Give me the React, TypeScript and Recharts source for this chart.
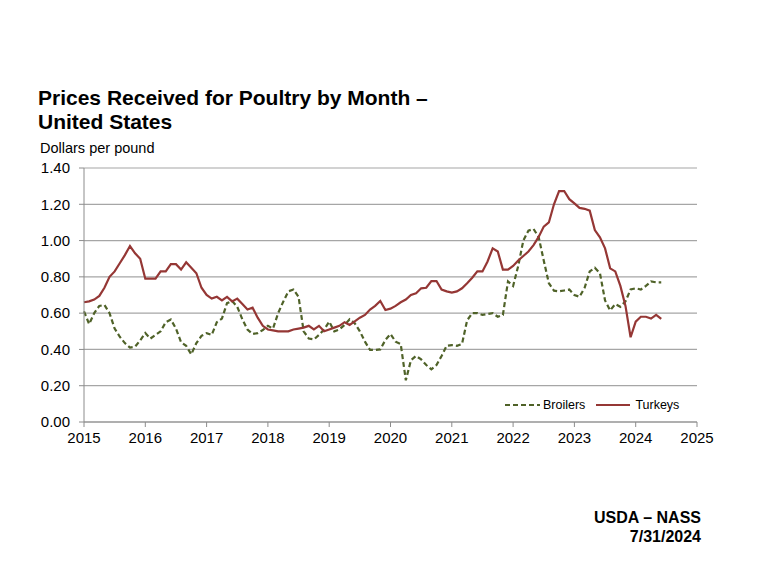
import React from "react";
import { LineChart, Line, XAxis, YAxis, CartesianGrid } from "recharts";

const startYear = 2015;
const yearTicks = [2015, 2016, 2017, 2018, 2019, 2020, 2021, 2022, 2023, 2024, 2025];
const priceTicks = [0, 0.2, 0.4, 0.6, 0.8, 1.0, 1.2, 1.4];

// Monthly prices, Jan 2015 - Jun 2024 (dollars per pound)
const broilers = [
  0.61, 0.54, 0.6, 0.64, 0.645, 0.6, 0.515, 0.47, 0.435, 0.41, 0.415, 0.45,
  0.49, 0.46, 0.48, 0.5, 0.55, 0.565, 0.515, 0.44, 0.42, 0.373, 0.435, 0.475,
  0.49, 0.48, 0.55, 0.57, 0.655, 0.667, 0.635, 0.566, 0.51, 0.485, 0.49, 0.507,
  0.53, 0.515, 0.6, 0.663, 0.72, 0.73, 0.69, 0.5, 0.46, 0.455, 0.48, 0.51,
  0.553, 0.5, 0.51, 0.535, 0.566, 0.544, 0.5, 0.443, 0.397, 0.397, 0.4, 0.452,
  0.485, 0.443, 0.43, 0.23, 0.34, 0.364, 0.345, 0.314, 0.29, 0.314, 0.364, 0.42,
  0.424, 0.42, 0.43, 0.56, 0.6, 0.6, 0.59, 0.595, 0.6, 0.58, 0.59, 0.775,
  0.75, 0.86, 1.0, 1.055, 1.064, 1.02, 0.89, 0.765, 0.724, 0.72, 0.725, 0.73,
  0.7, 0.69, 0.74, 0.83, 0.85, 0.82, 0.67, 0.615, 0.65, 0.635, 0.665, 0.73,
  0.737, 0.73, 0.75, 0.775, 0.77, 0.77,
];

const turkeys = [
  0.66, 0.665, 0.675, 0.695, 0.74, 0.8, 0.83, 0.875, 0.92, 0.97, 0.93, 0.9,
  0.79, 0.79, 0.79, 0.83, 0.83, 0.87, 0.87, 0.84, 0.88, 0.85, 0.82, 0.74,
  0.7, 0.68, 0.69, 0.67, 0.69, 0.665, 0.68, 0.65, 0.62, 0.63, 0.575, 0.53,
  0.51, 0.505, 0.5, 0.5, 0.5, 0.51, 0.515, 0.52, 0.53, 0.51, 0.53, 0.5,
  0.51, 0.52, 0.53, 0.55, 0.535, 0.555, 0.575, 0.59, 0.62, 0.64, 0.667, 0.617,
  0.625, 0.64, 0.66, 0.675, 0.7, 0.71, 0.737, 0.74, 0.777, 0.777, 0.73, 0.72,
  0.713, 0.72, 0.737, 0.765, 0.795, 0.83, 0.83, 0.885, 0.957, 0.94, 0.84, 0.84,
  0.86, 0.89, 0.915, 0.94, 0.975, 1.02, 1.077, 1.1, 1.2, 1.273, 1.273, 1.228,
  1.205, 1.18, 1.175, 1.165, 1.058, 1.018, 0.957, 0.847, 0.83, 0.75, 0.64, 0.467,
  0.553, 0.58, 0.58, 0.57, 0.59, 0.568,
];

const data = broilers.map((b, i) => ({
  t: startYear + i / 12,
  broilers: b,
  turkeys: turkeys[i],
}));

const FONT = '"Liberation Sans", Arial, sans-serif';
const GREEN = "#4f6228";
const RED = "#953735";
const GRID = "#a6a6a6";
const AXIS = "#8c8c8c";

export default function App() {
  return (
    <div
      style={{
        position: "absolute",
        left: 0,
        top: 0,
        width: 760,
        height: 570,
        background: "#fff",
        fontFamily: FONT,
        color: "#000",
      }}
    >
      <LineChart
        width={760}
        height={570}
        data={data}
        margin={{ top: 168, right: 63, bottom: 118, left: 14 }}
      >
        <CartesianGrid vertical={false} stroke={GRID} strokeWidth={1.2} />
        <XAxis
          dataKey="t"
          type="number"
          domain={[2015, 2025]}
          ticks={yearTicks}
          interval={0}
          height={30}
          tickSize={5}
          tickMargin={5}
          stroke={AXIS}
          tick={{ fill: "#000", fontSize: 15, fontFamily: FONT }}
          tickFormatter={(v) => String(Math.round(v))}
        />
        <YAxis
          type="number"
          domain={[0, 1.4]}
          ticks={priceTicks}
          interval={0}
          width={70}
          tickSize={5}
          tickMargin={9}
          stroke={AXIS}
          tick={{ fill: "#000", fontSize: 15, fontFamily: FONT }}
          tickFormatter={(v) => Number(v).toFixed(2)}
        />
        <Line
          type="linear"
          dataKey="broilers"
          stroke={GREEN}
          strokeWidth={2.2}
          strokeDasharray="5 3"
          dot={false}
          isAnimationActive={false}
        />
        <Line
          type="linear"
          dataKey="turkeys"
          stroke={RED}
          strokeWidth={2.2}
          dot={false}
          isAnimationActive={false}
        />
      </LineChart>

      <div
        style={{
          position: "absolute",
          left: 38,
          top: 86,
          fontSize: 21,
          fontWeight: "bold",
          lineHeight: "24px",
          whiteSpace: "nowrap",
        }}
      >
        <div>Prices Received for Poultry by Month –</div>
        <div>United States</div>
      </div>

      <div
        style={{
          position: "absolute",
          left: 40,
          top: 139,
          fontSize: 14.5,
          lineHeight: "18px",
          whiteSpace: "nowrap",
        }}
      >
        Dollars per pound
      </div>

      <div
        style={{
          position: "absolute",
          left: 503,
          top: 397,
          fontSize: 12.5,
          lineHeight: "16px",
          display: "flex",
          alignItems: "center",
          whiteSpace: "nowrap",
        }}
      >
        <svg width={38} height={16}>
          <line x1={2} y1={8} x2={37} y2={8} stroke={GREEN} strokeWidth={2.2} strokeDasharray="5 3" />
        </svg>
        <span style={{ marginLeft: 2 }}>Broilers</span>
        <svg width={40} height={16} style={{ marginLeft: 9 }}>
          <line x1={2} y1={8} x2={36} y2={8} stroke={RED} strokeWidth={2.2} />
        </svg>
        <span style={{ marginLeft: 1 }}>Turkeys</span>
      </div>

      <div
        style={{
          position: "absolute",
          right: 59,
          top: 508,
          fontSize: 16,
          fontWeight: "bold",
          lineHeight: "19px",
          textAlign: "right",
          whiteSpace: "nowrap",
        }}
      >
        <div>USDA – NASS</div>
        <div>7/31/2024</div>
      </div>
    </div>
  );
}
